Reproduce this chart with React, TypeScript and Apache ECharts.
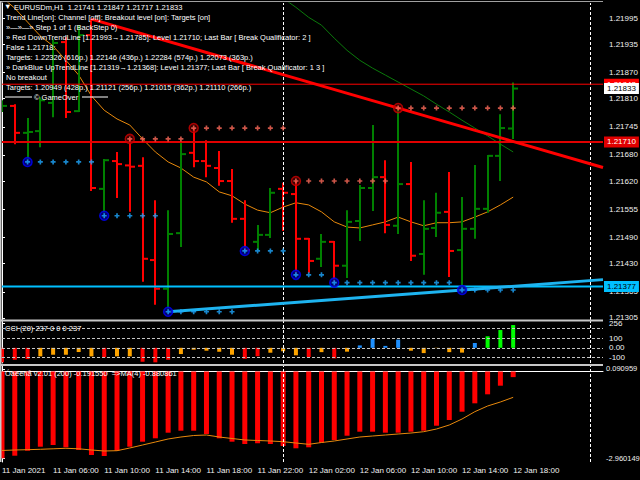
import React, { useEffect, useRef } from "react";
import * as echarts from "echarts";

const FONT = '"Liberation Sans", Arial, sans-serif';
const X_MAX = 47.03;

// ---- time axis ----
const timeLabels = ["11 Jan 2021", "11 Jan 06:00", "11 Jan 10:00", "11 Jan 14:00", "11 Jan 18:00", "11 Jan 22:00", "12 Jan 02:00", "12 Jan 06:00", "12 Jan 10:00", "12 Jan 14:00", "12 Jan 18:00"];
const timeLabelBars = [0, 4, 8, 12, 16, 20, 24, 28, 32, 36, 40];
const daySeparators = [22, 46];

// ---- price bars (H1) ----
const opens = [1.21783, 1.21793, 1.21731, 1.21735, 1.21800, 1.21940, 1.21781, 1.21956, 1.21602, 1.21666, 1.21656, 1.21655, 1.21438, 1.21372, 1.21500, 1.21685, 1.21666, 1.21650, 1.21620, 1.21533, 1.21480, 1.21496, 1.21602, 1.21590, 1.21487, 1.21441, 1.21480, 1.21425, 1.21528, 1.21604, 1.21629, 1.21517, 1.21613, 1.21452, 1.21512, 1.21549, 1.21461, 1.21510, 1.21556, 1.21678, 1.21741];
const highs = [1.21806, 1.21797, 1.21765, 1.21813, 1.21946, 1.21951, 1.21979, 1.21993, 1.21671, 1.21687, 1.21717, 1.21675, 1.21576, 1.21553, 1.21710, 1.21742, 1.21714, 1.21689, 1.21648, 1.21576, 1.21519, 1.21604, 1.21616, 1.21620, 1.21489, 1.21498, 1.21482, 1.21553, 1.21611, 1.21749, 1.21668, 1.21788, 1.21664, 1.21576, 1.21593, 1.21641, 1.21583, 1.21657, 1.21680, 1.21774, 1.21847];
const lows = [1.21779, 1.21705, 1.21664, 1.21698, 1.21767, 1.21765, 1.21779, 1.21597, 1.21540, 1.21581, 1.21549, 1.21388, 1.21335, 1.21319, 1.21468, 1.21652, 1.21629, 1.21609, 1.21524, 1.21459, 1.21461, 1.21489, 1.21505, 1.21404, 1.21409, 1.21422, 1.21386, 1.21397, 1.21482, 1.21551, 1.21500, 1.21498, 1.21436, 1.21404, 1.21491, 1.21399, 1.21369, 1.21487, 1.21547, 1.21620, 1.21717];
const closes = [1.21793, 1.21731, 1.21733, 1.21806, 1.21938, 1.21779, 1.21956, 1.21604, 1.21668, 1.21659, 1.21653, 1.21441, 1.21372, 1.21498, 1.21682, 1.21666, 1.21655, 1.21620, 1.21533, 1.21461, 1.21496, 1.21593, 1.21593, 1.21487, 1.21436, 1.21480, 1.21425, 1.21526, 1.21604, 1.21629, 1.21519, 1.21613, 1.21448, 1.21510, 1.21547, 1.21459, 1.21510, 1.21556, 1.21678, 1.21742, 1.21833];
const maPrice = [1.22043, 1.22018, 1.21986, 1.21954, 1.21931, 1.21898, 1.21864, 1.21816, 1.21783, 1.21763, 1.21749, 1.21717, 1.21687, 1.21664, 1.21650, 1.21629, 1.21618, 1.21595, 1.21586, 1.21567, 1.21553, 1.21547, 1.21560, 1.21570, 1.21565, 1.21549, 1.21526, 1.21514, 1.21512, 1.21519, 1.21526, 1.21537, 1.21526, 1.21517, 1.21524, 1.21524, 1.21526, 1.21537, 1.21549, 1.21565, 1.21583];
const greenLineStart = 22;
const greenLine = [1.22041, 1.22020, 1.21997, 1.21979, 1.21949, 1.21921, 1.21898, 1.21880, 1.21864, 1.21848, 1.21832, 1.21816, 1.21797, 1.21779, 1.21760, 1.21742, 1.21724, 1.21705, 1.21687];

// resistance (high) and support (low) dotted levels: [start bar, end bar]
const resStart = [10, 15, 23, 31];
const resEnd = [14, 22, 30, 40];
const supStart = [2, 8, 13, 19, 23, 26, 36];
const supEnd = [7, 12, 18, 22, 25, 35, 40];
const downTrendBars = [7, 31];
const upTrendBars = [13, 36];
const levelDown = 1.2171;
const levelUp = 1.21377;
const askPrice = 1.21843;
const bidPrice = 1.21833;
const priceTicks = [1.21995, 1.21935, 1.2187, 1.2181, 1.21745, 1.2168, 1.2162, 1.21555, 1.2149, 1.2143, 1.21365, 1.21305];

// ---- CCI ----
const cciValues = [-151, -124, -117, -89, -72, -72, -44, -89, -99, -89, -89, -145, -151, -124, -65, -20, -30, -41, -72, -114, -89, -51, -36, -78, -96, -45, -110, -40, 25, 95, 20, 85, -30, -55, -3, -45, -50, 50, 120, 185, 237];
const cciState = "RRROOOOOROORRROOOOORROOOROROBBBBOOOOOBGGG";
const cciLevels = [200, 100, 0, -100];
const cciTicks = [256, 100, 0, -100, -111];

// ---- oscillator ----
const oscValues = [-2.960149, -2.872, -2.701, -2.565, -2.507, -2.585, -2.677, -2.848, -2.882, -2.701, -2.565, -2.394, -2.278, -2.087, -2.019, -2.019, -2.132, -2.278, -2.394, -2.473, -2.449, -2.473, -2.541, -2.619, -2.585, -2.428, -2.336, -2.19, -2.053, -2.053, -2.087, -2.087, -2.053, -2.019, -1.849, -1.654, -1.371, -1.085, -0.778, -0.484, -0.19155];
const oscMA = [-2.694, -2.677, -2.667, -2.653, -2.636, -2.619, -2.636, -2.677, -2.711, -2.701, -2.609, -2.507, -2.405, -2.302, -2.234, -2.183, -2.166, -2.234, -2.285, -2.336, -2.353, -2.37, -2.394, -2.439, -2.483, -2.422, -2.37, -2.302, -2.234, -2.2, -2.166, -2.132, -2.098, -2.053, -1.961, -1.825, -1.62, -1.371, -1.177, -1.04, -0.880861];
const oscTicks = [0.090959, -2.960149];

const infoLines = [
  "Trend Line[on]: Channel [off]: Breakout level [on]: Targets [on]",
  "»—»—» Step 1 of 1 (BackStep 0)",
  "» Red DownTrendLine [1.21993→1.21785]: Level 1.21710; Last Bar [ Break Qualificator: 2 ]",
  "False 1.21718:",
  "Targets: 1.22326 (616p.) 1.22146 (436p.) 1.22284 (574p.) 1.22073 (363p.)",
  "» DarkBlue UpTrendLine [1.21319→1.21368]: Level 1.21377; Last Bar [ Break Qualificator: 1 3 ]",
  "No breakout",
  "Targets: 1.20949 (428p.) 1.21121 (256p.) 1.21015 (362p.) 1.21110 (266p.)",
];

const PLUS = "path://M2,0H4V2H6V4H4V6H2V4H0V2H2Z";
const stateColor: Record<string, string> = { R: "#ff0000", O: "#ffa500", B: "#1e90ff", G: "#00ff00" };

function extendLine(b0: number, p0: number, b1: number, p1: number) {
  const s = (p1 - p0) / (b1 - b0);
  return [[b0, p0], [X_MAX, p0 + s * (X_MAX - b0)]];
}

function buildOption() {
  const last = opens.length - 1;
  const resDots: number[][] = [];
  resStart.forEach((s, k) => { for (let i = s; i <= resEnd[k]; i++) resDots.push([i, highs[s]]); });
  const supDots: number[][] = [];
  supStart.forEach((s, k) => { for (let i = s; i <= supEnd[k]; i++) supDots.push([i, lows[s]]); });

  const axisLabelBase = { color: "#f0f0f0", fontSize: 8, fontFamily: FONT };
  const sepLine = () => ({
    symbol: "none", silent: true, label: { show: false },
    lineStyle: { color: "#ffffff", type: [3, 2], width: 1 },
    data: daySeparators.map((b) => ({ xAxis: b })),
  });
  // horizontal price line with its price box on the axis
  const hLine = (value: number, color: string, width: number, bg: string, fg: string, z: number) => ({
    type: "line", xAxisIndex: 0, yAxisIndex: 0, z, silent: true, showSymbol: false, clip: false,
    data: [[0, value], [X_MAX, value]],
    lineStyle: { color, width: Math.max(width, 1), opacity: width > 0 ? 1 : 0 },
    endLabel: {
      show: true, formatter: value.toFixed(5), backgroundColor: bg, color: fg,
      fontSize: 8, fontFamily: FONT, padding: [2, 3, 1, 3], distance: 1,
    },
  });

  const txt = (text: string, x: number, y: number) => ({
    type: "text", x, y, z: 100, silent: true,
    style: { text, fill: "#ffffff", fontSize: 7.5, fontFamily: FONT, verticalAlign: "middle" },
  });

  const graphics: any[] = [
    { type: "rect", shape: { x: 0, y: 319.5, width: 603, height: 2 }, style: { fill: "#c8c8c8" }, z: 50 },
    { type: "rect", shape: { x: 0, y: 364, width: 603, height: 2 }, style: { fill: "#c8c8c8" }, z: 50 },
    { type: "rect", shape: { x: 0, y: 1, width: 603, height: 1 }, style: { fill: "#a0a0a0" }, z: 50 },
    { type: "rect", shape: { x: 0, y: 1, width: 1.5, height: 461 }, style: { fill: "#c8c8c8" }, z: 50 },
    txt("▼", 4, 6.5),
    txt(`EURUSDm,H1  ${opens[last].toFixed(5)} ${highs[last].toFixed(5)} ${lows[last].toFixed(5)} ${closes[last].toFixed(5)}`, 14, 7.5),
    ...infoLines.map((t, k) => txt(t, 6, 17.5 + k * 9.95)),
    { type: "line", shape: { x1: 5, y1: 97, x2: 32, y2: 97 }, style: { stroke: "#ffffff", lineWidth: 1 }, z: 100 },
    txt("© GameOver", 34, 97),
    { type: "line", shape: { x1: 82, y1: 97, x2: 108, y2: 97 }, style: { stroke: "#ffffff", lineWidth: 1 }, z: 100 },
    txt(`CCI (20) ${cciValues[last]} 0 0 0 ${cciValues[last]}`, 5, 328.5),
    txt(`Óàëèñå v2.01 (200) ${oscValues[last].toFixed(6)}  =>MA(4) ${oscMA[last].toFixed(6)}`, 5, 373),
  ];

  return {
    backgroundColor: "#000000",
    animation: false,
    grid: [
      { left: 2, right: 37, top: 3, height: 317, outerBoundsMode: "none" },
      { left: 2, right: 37, top: 321, height: 42, outerBoundsMode: "none" },
      { left: 2, right: 37, top: 366, height: 96, outerBoundsMode: "none" },
    ],
    xAxis: [
      { gridIndex: 0, type: "value", min: 0, max: X_MAX, show: false },
      { gridIndex: 1, type: "value", min: 0, max: X_MAX, show: false },
      {
        gridIndex: 2, type: "value", min: 0, max: X_MAX, position: "bottom",
        axisLine: { show: true, lineStyle: { color: "#ffffff", width: 1 } },
        axisTick: { show: true, customValues: timeLabelBars, length: 3, lineStyle: { color: "#ffffff" } },
        splitLine: { show: false },
        axisLabel: {
          ...axisLabelBase, customValues: timeLabelBars, align: "left", margin: 4,
          formatter: (v: number) => timeLabels[timeLabelBars.indexOf(Math.round(v))] || "",
        },
      },
    ],
    yAxis: [
      {
        gridIndex: 0, type: "value", position: "right", min: 1.213, max: 1.2203,
        axisLine: { show: true, lineStyle: { color: "#ffffff", width: 1 } },
        axisTick: { show: true, customValues: priceTicks, length: 3, lineStyle: { color: "#ffffff" } },
        splitLine: { show: false },
        axisLabel: { ...axisLabelBase, customValues: priceTicks, margin: 6, formatter: (v: number) => v.toFixed(5) },
      },
      {
        gridIndex: 1, type: "value", position: "right", min: -158, max: 279,
        axisLine: { show: true, lineStyle: { color: "#ffffff", width: 1 } },
        axisTick: { show: true, customValues: cciTicks, length: 3, lineStyle: { color: "#ffffff" } },
        splitLine: { show: false },
        axisLabel: { ...axisLabelBase, customValues: cciTicks, margin: 6, formatter: (v: number) => (v === 0 ? "0.00" : String(v)) },
      },
      {
        gridIndex: 2, type: "value", position: "right", min: -3.0864, max: 0.1876,
        axisLine: { show: true, lineStyle: { color: "#ffffff", width: 1 } },
        axisTick: { show: true, customValues: oscTicks, length: 3, lineStyle: { color: "#ffffff" } },
        splitLine: { show: false },
        axisLabel: { ...axisLabelBase, fontSize: 7.5, customValues: oscTicks, margin: 3, formatter: (v: number) => v.toFixed(6) },
      },
    ],
    graphic: graphics,
    series: [
      {
        type: "line", xAxisIndex: 0, yAxisIndex: 0, z: 2, silent: true,
        data: maPrice.map((v, i) => [i, v]), showSymbol: false, clip: true,
        lineStyle: { color: "#e8890c", width: 1 },
        markLine: sepLine(),
      },
      {
        type: "line", xAxisIndex: 0, yAxisIndex: 0, z: 3, silent: true, clip: true,
        data: greenLine.map((v, k) => [greenLineStart + k, v]), showSymbol: false,
        lineStyle: { color: "#0b7a0b", width: 1 },
      },
      {
        type: "custom", xAxisIndex: 0, yAxisIndex: 0, z: 4, silent: true, clip: true,
        data: opens.map((o, i) => [i, o, highs[i], lows[i], closes[i]]),
        encode: { x: 0, y: [1, 2, 3, 4] },
        renderItem: (params: any, api: any) => {
          const i = api.value(0);
          const pO = api.coord([i, api.value(1)]);
          const pH = api.coord([i, api.value(2)]);
          const pL = api.coord([i, api.value(3)]);
          const pC = api.coord([i, api.value(4)]);
          const color = api.value(4) >= api.value(1) ? "#008000" : "#ff0000";
          const x = Math.round(pO[0]);
          const st = { stroke: color, lineWidth: 2 };
          return {
            type: "group",
            children: [
              { type: "line", shape: { x1: x, y1: pH[1], x2: x, y2: pL[1] }, style: st },
              { type: "line", shape: { x1: x - 5, y1: pO[1], x2: x, y2: pO[1] }, style: st },
              { type: "line", shape: { x1: x, y1: pC[1], x2: x + 5, y2: pC[1] }, style: st },
            ],
          };
        },
      },
      hLine(levelDown, "#e00000", 2, "#e00000", "#ffffff", 5),
      hLine(levelUp, "#00bfff", 2, "#00bfff", "#000000", 5),
      hLine(askPrice, "#ff0000", 1, "#ff0000", "#ffffff", 5),
      hLine(bidPrice, "#ffffff", 0, "#ffffff", "#000000", 20),
      {
        type: "line", xAxisIndex: 0, yAxisIndex: 0, z: 6, silent: true, showSymbol: false,
        data: extendLine(downTrendBars[0], highs[downTrendBars[0]], downTrendBars[1], highs[downTrendBars[1]]),
        lineStyle: { color: "#ff0000", width: 3 },
      },
      {
        type: "line", xAxisIndex: 0, yAxisIndex: 0, z: 6, silent: true, showSymbol: false,
        data: extendLine(upTrendBars[0], lows[upTrendBars[0]], upTrendBars[1], lows[upTrendBars[1]]),
        lineStyle: { color: "#1eb4f0", width: 3 },
      },
      {
        type: "scatter", xAxisIndex: 0, yAxisIndex: 0, z: 7, silent: true,
        data: resStart.map((s) => [s, highs[s]]), symbol: "circle", symbolSize: 9,
        itemStyle: { color: "rgba(120,0,0,0.6)", borderColor: "#d00000", borderWidth: 1.5 },
      },
      {
        type: "scatter", xAxisIndex: 0, yAxisIndex: 0, z: 7, silent: true,
        data: supStart.map((s) => [s, lows[s]]), symbol: "circle", symbolSize: 9,
        itemStyle: { color: "#00008b", borderColor: "#0000ff", borderWidth: 1.5 },
      },
      {
        type: "scatter", xAxisIndex: 0, yAxisIndex: 0, z: 8, silent: true,
        data: resDots, symbol: PLUS, symbolSize: 5, itemStyle: { color: "#ff6a5a" },
      },
      {
        type: "scatter", xAxisIndex: 0, yAxisIndex: 0, z: 8, silent: true,
        data: supDots, symbol: PLUS, symbolSize: 5, itemStyle: { color: "#1ea8ff" },
      },
      {
        type: "bar", xAxisIndex: 1, yAxisIndex: 1, z: 3, silent: true, barWidth: 4,
        data: cciValues.map((v, i) => [i, v]),
        itemStyle: { color: (p: any) => stateColor[cciState[p.dataIndex]] },
        markLine: {
          symbol: "none", silent: true, label: { show: false },
          lineStyle: { color: "#c8c8c8", type: [3, 2], width: 1 },
          data: cciLevels.map((v) => ({ yAxis: v })),
        },
      },
      {
        type: "line", xAxisIndex: 1, yAxisIndex: 1, z: 2, silent: true, showSymbol: false,
        data: [[0, 0], [X_MAX, 0]], lineStyle: { opacity: 0 }, markLine: sepLine(),
      },
      {
        type: "bar", xAxisIndex: 2, yAxisIndex: 2, z: 3, silent: true, barWidth: 5,
        data: oscValues.map((v, i) => [i, v]), itemStyle: { color: "#ff0000" },
        markLine: sepLine(),
      },
      {
        type: "line", xAxisIndex: 2, yAxisIndex: 2, z: 4, silent: true, showSymbol: false,
        data: oscMA.map((v, i) => [i, v]), lineStyle: { color: "#e8890c", width: 1 },
      },
    ],
  };
}

export default function App() {
  const ref = useRef<HTMLDivElement>(null);
  useEffect(() => {
    if (!ref.current) return;
    const chart = echarts.init(ref.current, null, { renderer: "svg" });
    chart.setOption(buildOption() as any);
    return () => chart.dispose();
  }, []);
  return <div ref={ref} style={{ position: "fixed", left: 0, top: 0, width: 640, height: 480, background: "#000" }} />;
}
